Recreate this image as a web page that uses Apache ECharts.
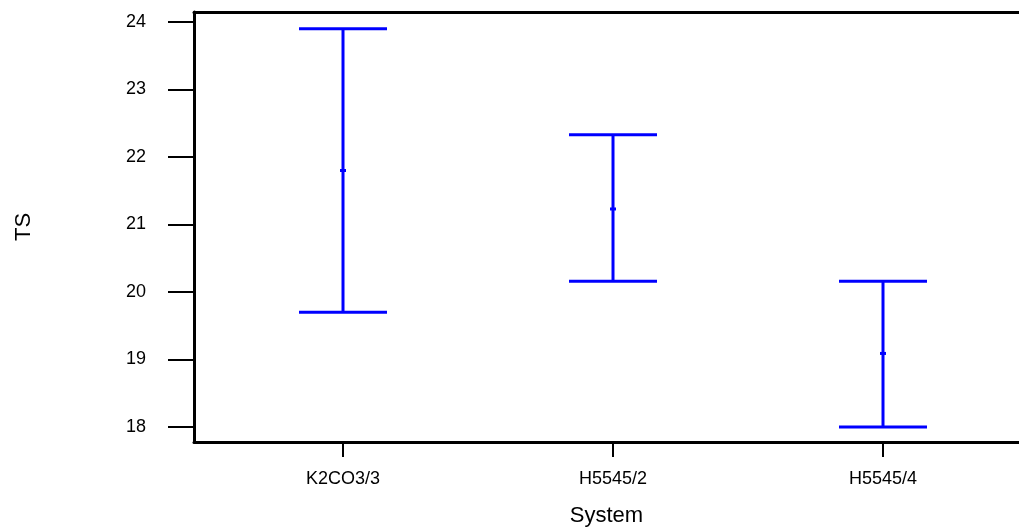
<!DOCTYPE html>
<html>
<head>
<meta charset="utf-8">
<script src="https://cdn.jsdelivr.net/npm/echarts@6/dist/echarts.min.js"></script>
<style>html,body{margin:0;padding:0;background:#fff}#c{width:1019px;height:530px}</style>
</head>
<body>
<div id="c"></div>
<script>
const categories = ['K2CO3/3', 'H5545/2', 'H5545/4'];
const means = [21.80, 21.23, 19.09];
const lows = [19.70, 20.16, 18.00];
const highs = [23.90, 22.33, 20.16];
const yTicks = [18, 19, 20, 21, 22, 23, 24];
const xTicks = [1, 2, 3];

const data = categories.map((c, i) => [i + 1, lows[i], highs[i], means[i]]);
const chart = echarts.init(document.getElementById('c'));
const BLUE = '#0000ff';
const FONT = 'Liberation Sans';
chart.setOption({
  animation: false,
  grid: { left: 194, top: 12, bottom: 88, right: 0, outerBoundsMode: 'none', containLabel: false },
  xAxis: [{
    type: 'value', min: 0.4481, max: 3.5037,
    name: 'System', nameLocation: 'middle', nameGap: 63,
    nameTextStyle: { fontFamily: FONT, fontSize: 22, color: '#000' },
    axisLine: { show: true, lineStyle: { color: '#000', width: 3 } },
    axisTick: { show: true, customValues: xTicks, length: 15, lineStyle: { color: '#000', width: 2 } },
    axisLabel: { customValues: xTicks, margin: 28, fontFamily: FONT, fontSize: 18, color: '#000',
      formatter: v => categories[Math.round(v) - 1] || '' },
    splitLine: { show: false }
  }, {
    type: 'value', position: 'top', min: 0.4481, max: 3.5037,
    axisLine: { show: true, lineStyle: { color: '#000', width: 3 } },
    axisTick: { show: false }, axisLabel: { show: false }, splitLine: { show: false }
  }],
  yAxis: {
    type: 'value', min: 17.778, max: 24.148,
    name: 'TS', nameLocation: 'middle', nameGap: 159, nameRotate: 90,
    nameTextStyle: { fontFamily: FONT, fontSize: 22, color: '#000' },
    axisLine: { show: true, lineStyle: { color: '#000', width: 3 } },
    axisTick: { show: true, customValues: yTicks, length: 26, lineStyle: { color: '#000', width: 2 } },
    axisLabel: { customValues: yTicks, margin: 48, fontFamily: FONT, fontSize: 18, color: '#000' },
    splitLine: { show: false }
  },
  series: [{
    type: 'custom',
    xAxisIndex: 0,
    data: data,
    renderItem: function (params, api) {
      const x = api.value(0);
      const lo = api.coord([x, api.value(1)]);
      const hi = api.coord([x, api.value(2)]);
      const mid = api.coord([x, api.value(3)]);
      const hw = 44;
      const st = { stroke: BLUE, lineWidth: 3 };
      return {
        type: 'group',
        children: [
          { type: 'line', shape: { x1: lo[0], y1: lo[1], x2: hi[0], y2: hi[1] }, style: st },
          { type: 'line', shape: { x1: hi[0] - hw, y1: hi[1], x2: hi[0] + hw, y2: hi[1] }, style: st },
          { type: 'line', shape: { x1: lo[0] - hw, y1: lo[1], x2: lo[0] + hw, y2: lo[1] }, style: st },
          { type: 'line', shape: { x1: mid[0] - 3, y1: mid[1], x2: mid[0] + 3, y2: mid[1] }, style: { stroke: BLUE, lineWidth: 3 } }
        ]
      };
    }
  }]
});
</script>
</body>
</html>
